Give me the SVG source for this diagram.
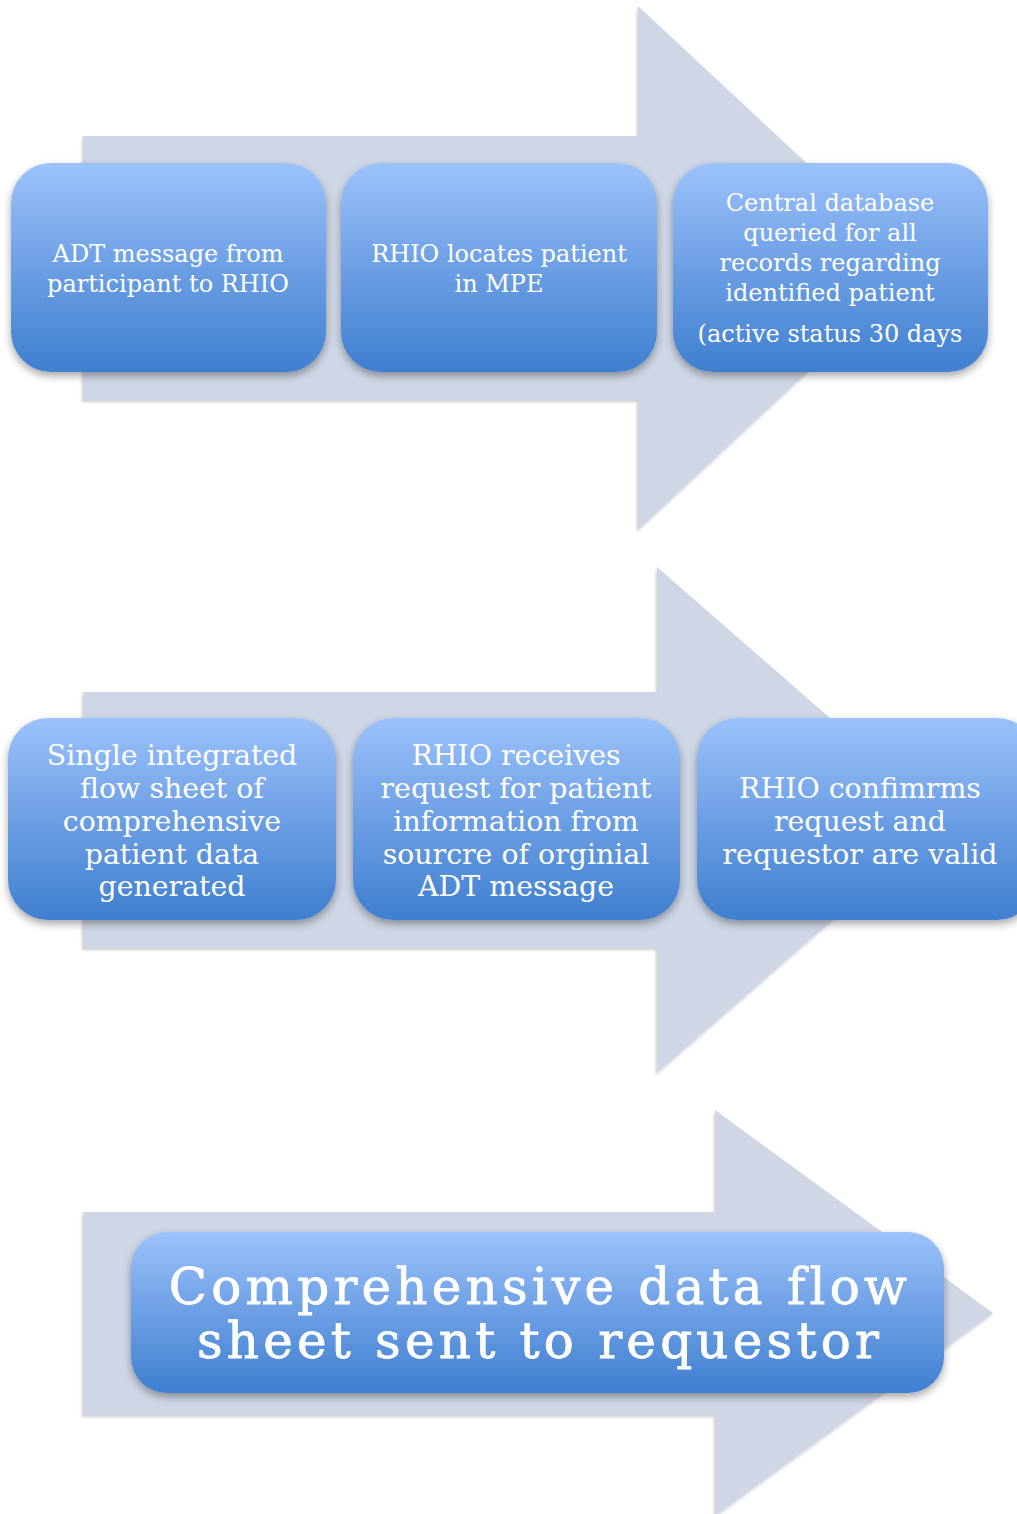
<svg xmlns="http://www.w3.org/2000/svg" width="1017" height="1514" viewBox="0 0 1017 1514">
  <defs>
    <linearGradient id="boxFill" x1="0" y1="0" x2="0" y2="1">
      <stop offset="0" stop-color="#9cc2fb"/>
      <stop offset="0.5" stop-color="#6c9fe4"/>
      <stop offset="1" stop-color="#3f7fcf"/>
    </linearGradient>
    <filter id="boxShadow" x="-10%" y="-10%" width="120%" height="130%">
      <feDropShadow dx="0" dy="4" stdDeviation="4" flood-color="#000" flood-opacity="0.35"/>
    </filter>
    <filter id="arrowShadow" x="-5%" y="-5%" width="110%" height="110%">
      <feDropShadow dx="-1" dy="2" stdDeviation="1.5" flood-color="#000" flood-opacity="0.2"/>
    </filter>
  </defs>
  <style>
    .arrow { fill: #cfd7e6; filter: url(#arrowShadow); }
    .box { fill: url(#boxFill); filter: url(#boxShadow); }
    .t { fill: #ffffff; font-family: "DejaVu Serif", "Liberation Serif", serif; text-anchor: middle; }
    .s1 { font-size: 24px; }
    .s2 { font-size: 28.4px; }
    .s3 { font-size: 50px; letter-spacing: 4.2px; stroke: #ffffff; stroke-width: 0.8px; }
  </style>

  <rect width="1017" height="1514" fill="#ffffff"/>

  <!-- background flow arrows -->
  <g id="connectors">
    <polygon id="arrow-1" class="arrow" points="83,136 638,136 638,6 919,268 638,530 638,400 83,400"/>
    <polygon id="arrow-2" class="arrow" points="83,692 657,692 657,567 947,820 657,1073 657,948 83,948"/>
    <polygon id="arrow-3" class="arrow" points="83,1212 715,1212 715,1110 993,1313 715,1516 715,1415 83,1415"/>
  </g>

  <!-- row 1 -->
  <g id="node-adt">
    <rect class="box" x="11" y="163" width="315" height="209" rx="40"/>
    <text class="t s1" x="168"><tspan x="168" y="262">ADT message from</tspan><tspan x="168" y="292">participant to RHIO</tspan></text>
  </g>
  <g id="node-locate">
    <rect class="box" x="341" y="163" width="316" height="209" rx="40"/>
    <text class="t s1" x="499"><tspan x="499" y="262">RHIO locates patient</tspan><tspan x="499" y="292">in MPE</tspan></text>
  </g>
  <g id="node-query">
    <rect class="box" x="673" y="163" width="315" height="209" rx="40"/>
    <text class="t s1" x="830"><tspan x="830" y="211">Central database</tspan><tspan x="830" y="241">queried for all</tspan><tspan x="830" y="271">records regarding</tspan><tspan x="830" y="301">identified patient</tspan><tspan x="830" y="342">(active status 30 days</tspan></text>
  </g>

  <!-- row 2 -->
  <g id="node-sheet">
    <rect class="box" x="8" y="718" width="328" height="202" rx="40"/>
    <text class="t s2" x="172"><tspan x="172" y="765">Single integrated</tspan><tspan x="172" y="798">flow sheet of</tspan><tspan x="172" y="831">comprehensive</tspan><tspan x="172" y="864">patient data</tspan><tspan x="172" y="896">generated</tspan></text>
  </g>
  <g id="node-request">
    <rect class="box" x="353" y="718" width="327" height="202" rx="40"/>
    <text class="t s2" x="516"><tspan x="516" y="765">RHIO receives</tspan><tspan x="516" y="798">request for patient</tspan><tspan x="516" y="831">information from</tspan><tspan x="516" y="864">sourcre of orginial</tspan><tspan x="516" y="896">ADT message</tspan></text>
  </g>
  <g id="node-confirm">
    <rect class="box" x="697" y="718" width="340" height="202" rx="40"/>
    <text class="t s2" x="860"><tspan x="860" y="798">RHIO confimrms</tspan><tspan x="860" y="831">request and</tspan><tspan x="860" y="864">requestor are valid</tspan></text>
  </g>

  <!-- row 3 -->
  <g id="node-sent">
    <rect class="box" x="131" y="1232" width="813" height="161" rx="36"/>
    <text class="t s3" x="540"><tspan x="540" y="1304">Comprehensive data flow</tspan><tspan x="540" y="1358">sheet sent to requestor</tspan></text>
  </g>
</svg>
